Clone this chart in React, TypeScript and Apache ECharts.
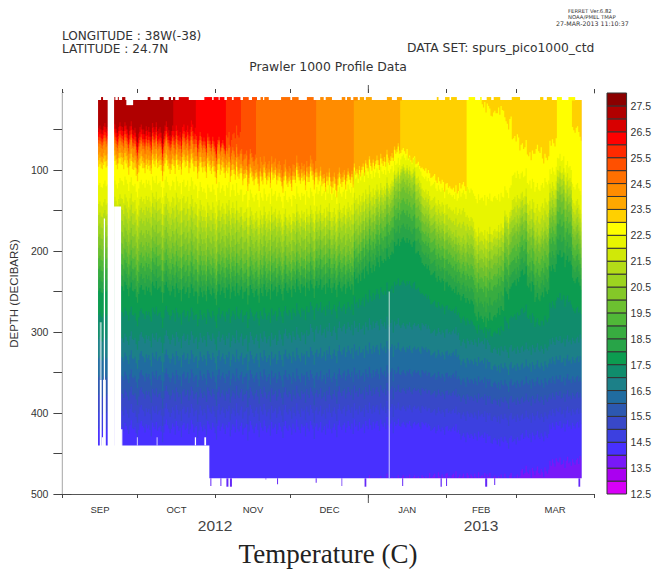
import React, { useEffect, useRef } from "react";
import * as echarts from "echarts";

// Depth (dbar) of each isotherm, one value per 3-day column starting at day 14.2 after 1 Sep 2012.
const level27 = [47,47,45,47,49,52,50,48,49,50];
const level26_5 = [52,52,50,52,55,58,56,54,56,57,53,50,48];
const level26 = [58,58,56,58,60,64,62,60,62,62,60,58,56,60,63,65,68];
const level25_5 = [62,62,60,62,65,68,66,64,66,66,65,62,62,65,68,70,72,60,55];
const level25 = [66,66,64,66,69,72,70,68,70,70,70,67,68,70,72,74,74,76,78,80,82];
const level24_5 = [70,70,68,70,72,76,74,72,74,74,74,72,72,74,76,78,78,80,82,86,88,90,92,90,95,98,92,95,90];
const level24 = [80,80,77,79,83,85,85,81,83,85,83,81,83,85,87,89,89,91,95,99,101,104,102,100,105,107,101,103,100,103,107,108,104,104];
const level23_5 = [87,87,83,85,89,91,91,87,89,91,89,87,89,91,93,95,95,97,100,104,105,108,106,104,110,112,106,108,104,108,112,114,110,108,100,94,90,86,84,74];
const level23 = [95,95,90,94,98,100,98,94,96,98,96,94,96,98,100,102,102,104,106,110,112,114,112,110,115,117,110,114,110,114,118,122,116,112,105,98,94,92,90,78,76,86,92,100,108,114,120,125,118,0,0,20,30,25,40,60,70,80,75,85,65,0,0,50,58];
const level22_5 = [118,118,114,114,118,120,116,114,116,118,116,118,118,122,126,124,124,122,126,130,132,134,132,130,134,136,130,132,130,126,128,130,128,124,110,106,104,102,100,92,84,88,96,110,118,124,128,134,128,125,135,135,135,132,125,105,105,115,122,115,100,85,95,120,125];
const level22 = [141,141,134,136,138,141,136,134,136,138,136,138,140,144,148,146,146,144,148,152,154,156,154,152,156,158,152,154,152,150,150,152,148,146,136,130,126,122,118,104,96,100,110,126,136,142,146,152,150,160,176,178,176,170,155,135,130,140,148,140,118,100,110,140,148];
const level21 = [168,168,158,163,166,168,163,160,163,166,166,168,168,172,174,173,172,170,172,174,176,178,176,173,176,178,173,174,173,170,172,174,170,170,162,154,148,140,132,114,104,110,126,146,158,165,172,180,184,182,198,200,195,188,170,160,150,165,178,170,140,116,130,162,170];
const level20 = [195,195,185,191,195,197,193,189,193,195,195,197,197,201,203,203,201,199,201,203,203,205,203,201,203,205,201,201,199,193,195,197,199,200,186,176,168,160,152,134,124,130,146,166,176,184,190,198,205,205,220,222,218,210,195,180,170,185,198,190,160,136,150,182,190];
const level19 = [221,221,211,217,221,223,219,215,219,221,221,223,223,225,227,227,225,223,225,227,227,229,227,225,225,227,223,223,221,217,219,221,221,222,208,198,192,184,176,160,152,158,172,190,200,208,214,222,228,232,245,248,245,236,220,210,196,216,228,220,186,166,178,208,215];
const level18 = [248,248,238,244,248,250,248,244,246,248,248,250,250,252,252,252,250,248,250,250,250,252,250,248,248,248,245,245,244,242,244,245,245,244,234,225,220,212,206,192,186,190,202,218,228,236,242,250,256,262,280,285,282,272,250,238,226,242,258,250,220,204,212,236,242];
// Deep isotherms change slowly: one value per 12 days.
const level17 = [308,308,308,308,308,308,304,298,294,290,292,300,312,322,320,310,302];
const level16 = [355,355,355,355,355,355,355,355,352,350,350,354,360,364,362,358,355];
const level15 = [398,398,398,398,398,398,398,398,396,394,394,398,402,406,404,398,394];
const level14_5 = [418,418,418,418,418,418,418,418,416,414,414,420,428,434,428,415,408];
const level14 = [490,490,490,490,490,490,490,490,490,484,480,478,478,480,472,460,452];
// Profile-to-profile vertical displacement (dbar), one value per half day from day 14.
const heave = [
  1,-2,3,4,-1,-5,2,0,-3,6,1,-2,-7,-1,4,9,2,-4,-1,0,
  5,-6,-2,3,8,-3,-9,1,2,-1,7,14,3,-5,-8,-2,0,6,-4,1,
  -3,3,11,-6,-1,2,-7,4,0,-2,5,18,6,-4,-10,-3,1,7,2,-5,
  -1,9,-8,-2,4,0,12,-3,-6,3,1,-5,8,2,-9,-4,6,0,-2,13,
  4,-7,-1,5,-3,2,10,-8,-4,1,3,-6,0,7,15,-2,-9,4,-1,-5,
  2,8,-3,0,-7,11,3,-4,-1,6,-10,2,5,-2,-6,9,1,0,-4,16,
  5,-8,-3,2,7,-1,-5,3,12,-6,0,4,-9,-2,6,1,-3,10,-7,2,
  0,-4,8,3,-6,-1,5,13,-2,-8,1,4,-3,0,9,-5,2,6,-10,-1,
  3,7,-4,0,-2,11,-6,1,5,-8,-3,2,14,-1,-5,4,0,-7,6,3,
  -2,9,-4,1,-9,2,7,0,-5,3,12,-3,-7,1,5,-1,-4,8,2,-6,
  0,4,-3,10,-8,1,-1,6,-5,3,2,-2,9,-6,0,4,-7,1,7,-3,
  5,-1,-4,2,8,-6,0,3,-2,6,-9,1,4,-1,-5,11,-3,2,0,-7,
  2,3,-1,-3,1,4,-2,0,-4,2,5,-1,-3,1,0,-2,3,6,-3,-1,
  1,-2,4,0,-4,2,1,-1,-3,5,2,-5,0,3,-2,1,7,-3,-4,2,
  0,3,-1,-3,2,-6,4,1,-2,5,0,-3,2,8,-4,-1,3,-2,0,4,
  -3,1,6,-5,2,0,-1,3,-4,9,-2,1,-6,3,4,-1,-3,0,5,-2,
  7,-4,1,2,-5,0,3,10,-3,-6,2,1,-2,5,-4,0,6,-1,-3,4,
  2,-7,1,3,-2,8,-4,0,5,-1,-6,2,4,-3,1,7,-5,0,3,-2,
  -1,5,-3,2,6,-4,0,1,-5,4,3,-2,8,-1,-6,2,0,5,-3,1,
  4,-2,-4,3,1,6,-3,0,
];
// Days where the surface of the section reaches 10 dbar rather than 13.6 dbar.
const surfaceToothStart = [15.4,20.7,22.1,23.8,34,38.8,42.4,44.1,46.4,56.6,60.3,62.7,65.6,68.3,72,75.6,79,80.5,87.2,91.6,97.5,102.8,105,111.4,113.5,116,118.6,121,129.4,133.4,149.3,152.6,155,162,166.6,169.2,172,179.2,190.5,193.2,197.2,201.8];
const surfaceToothEnd = [16.2,21.1,22.5,25.1,35.1,40.4,43.3,45,50.4,59.7,62.3,64.6,67.6,71,74.3,77.6,80,82.3,90.9,94.2,100.2,104.2,107.5,112.8,115,117.8,120.3,123.4,131.4,135.4,150,154.4,157.3,164.6,167.2,171,174.6,182.5,191.8,195.2,199.2,204.5];
// Blank data regions: [startDay, endDay, topDepth, bottomDepth]
const gapRegions = [
  [0,14.2,0,500],[18.05,20.6,0,500],[20.6,23.4,145,500],[23.4,23.9,420,500],
  [16.5,17,160,500],[14.9,15.66,359,500],[16.2,17.3,359,500],[15.66,16.2,430,500],
  [13.5,58.6,440,500],[58.4,208,480.6,500],[207.1,212,0,500],
  [29.7,30,430,440],[37.6,37.9,430,440],[52.8,53.3,430,440],[56.6,57.3,430,440],
  [25.5,28.2,13.6,20],[13.5,15.4,10,13.6],
];
const paleRegions = [[14.9,15.66,288,359],[130.1,130.6,250,480.6]];
// Readings below the 480 dbar floor: day span and deepest depth
const deepStart = [59,63,65.4,66.8,101,111.3,120.5,135.5,81,85.6,150.8,153,168.6,172.2,205.8];
const deepEnd = [59.4,63.4,66.2,67.6,101.4,111.6,121.2,135.9,81.3,86,151.3,153.4,169.4,172.6,206.5];
const deepDepth = [490,490,491,491,486,490,491,490,482,488,491,490,491,489,491];

const monthTicks = [0,30,61,91,122,153,181,212];
const monthCenters = [15,45.5,76,106.5,137.5,167,196.5];
const monthLabels = ["SEP","OCT","NOV","DEC","JAN","FEB","MAR"];
const depthTicks = [50,100,150,200,250,300,350,400,450,500];
const depthLabels = [100,200,300,400,500];
const colorbarTicks = [12.5,13.5,14.5,15.5,16.5,17.5,18.5,19.5,20.5,21.5,22.5,23.5,24.5,25.5,26.5,27.5];
// Colour of each 0.5 degree class, lowest bound first (12.5 to 28)
const classColors = ["#d800f8","#aa00f0","#7818f8","#4830ff","#3c40e0","#3848c8","#2c58b0","#206ca0","#1c8088","#108c6c","#0c9c50","#28a448","#38ac40","#50b838","#6cc030","#84c828","#9cd420","#b4dc18","#d0e808","#e8f500","#ffff00","#ffd000","#ffa800","#ff8c00","#ff7000","#ff5000","#ff2a00","#ff0000","#d80000","#b00000","#8b0000"];

const FIRST_DAY = 14.2;
const LAST_DAY = 207.1;
const SURFACE = 13.6;
const SANS = "Liberation Sans";
const WIDE = "DejaVu Sans";

const at = (arr: number[], span: number, day: number) => {
  const v = arr[Math.floor((day - FIRST_DAY) / span)];
  return v === undefined ? 0 : v;
};
const lv = (arr: number[], span: number) => (day: number) => at(arr, span, day);
const mid = (a: (d: number) => number, b: (d: number) => number) => (day: number) => (a(day) + b(day)) / 2;

const f27 = lv(level27, 3), f265 = lv(level26_5, 3), f26 = lv(level26, 3), f255 = lv(level25_5, 3), f25 = lv(level25, 3);
const f245 = lv(level24_5, 3), f24 = lv(level24, 3), f235 = lv(level23_5, 3), f23 = lv(level23, 3), f225 = lv(level22_5, 3), f22 = lv(level22, 3);
const f21 = lv(level21, 3), f20 = lv(level20, 3), f19 = lv(level19, 3), f18 = lv(level18, 3);
const f17 = lv(level17, 12), f16 = lv(level16, 12), f15 = lv(level15, 12), f145 = lv(level14_5, 12), f14 = lv(level14, 12);

// Upper edge of each class, warmest first: [class index, edge]
const bands: [number, (d: number) => number][] = [
  [29, () => 0], [28, f27], [27, f265], [26, f26], [25, f255], [24, f25], [23, f245], [22, f24], [21, f235], [20, f23], [19, f225],
  [18, f22], [17, mid(f22, f21)], [16, f21], [15, mid(f21, f20)], [14, f20], [13, mid(f20, f19)], [12, f19], [11, mid(f19, f18)], [10, f18],
  [9, mid(f18, f17)], [8, f17], [7, mid(f17, f16)], [6, f16], [5, mid(f16, f15)], [4, f15], [3, f145], [2, f14],
];

const STEP = 0.5;
const dayEdges: number[] = [];
for (let d = FIRST_DAY; d < LAST_DAY; d += STEP) dayEdges.push(d);

const edgeDepth = (edge: (d: number) => number, day: number) => {
  const base = edge(day);
  if (base <= SURFACE) return 0;
  return base + (heave[Math.floor((day - 14) / STEP)] || 0);
};
const surfaceColor = (day: number) => {
  let c = classColors[29];
  for (const [idx, edge] of bands) if (edge(day) <= SURFACE) c = classColors[idx];
  return c;
};

export default function App() {
  const ref = useRef<HTMLDivElement>(null);
  useEffect(() => {
    const chart = echarts.init(ref.current!, undefined, { renderer: "svg" });
    const labelStyle = { color: "#333", fontFamily: SANS };
    const txt = (text: string, x: number, y: number, size: number, align = "left", extra: any = {}) => ({
      type: "text", x, y,
      style: { text, fontSize: size, fontFamily: WIDE, fill: "#333", textAlign: align, textVerticalAlign: "middle", ...extra },
      silent: true,
    });
    chart.setOption({
      animation: false,
      backgroundColor: "#fff",
      grid: [
        { left: 62, top: 93, width: 532, height: 401 },
        { left: 607, top: 93, width: 20, height: 401 },
      ],
      xAxis: [
        {
          type: "value", gridIndex: 0, min: 0, max: 212, position: "bottom", splitLine: { show: false },
          axisLine: { lineStyle: { color: "#555", width: 1.2 } },
          axisTick: { customValues: monthTicks, length: 4, lineStyle: { color: "#444" } },
          axisLabel: { customValues: monthCenters, margin: 10, fontSize: 9.5, ...labelStyle, formatter: (v: number) => monthLabels[monthCenters.indexOf(v)] },
        },
        {
          type: "value", gridIndex: 0, min: 0, max: 212, position: "top", splitLine: { show: false },
          axisLine: { lineStyle: { color: "#777", width: 1.2 } },
          axisTick: { customValues: monthTicks, length: 4, lineStyle: { color: "#444" } },
          axisLabel: { show: false },
        },
        { type: "value", gridIndex: 1, min: 0, max: 1, show: false },
      ],
      yAxis: [
        {
          type: "value", gridIndex: 0, min: 5, max: 500, inverse: true, position: "left", splitLine: { show: false },
          name: "DEPTH (DECIBARS)", nameLocation: "middle", nameGap: 37, nameRotate: 90,
          nameTextStyle: { fontSize: 11.5, ...labelStyle },
          axisLine: { lineStyle: { color: "#888", width: 2 } },
          axisTick: { customValues: depthTicks, length: 9, lineStyle: { color: "#444" } },
          axisLabel: { customValues: depthLabels, margin: 14, fontSize: 10.5, ...labelStyle },
        },
        {
          type: "value", gridIndex: 0, min: 5, max: 500, inverse: true, position: "right", splitLine: { show: false },
          axisLine: { lineStyle: { color: "#555", width: 1.2 } },
          axisTick: { customValues: depthTicks, length: 9, lineStyle: { color: "#444" } },
          axisLabel: { show: false },
        },
        {
          type: "value", gridIndex: 1, min: 12.5, max: 28, position: "right", splitLine: { show: false },
          axisLine: { show: false }, axisTick: { show: false },
          axisLabel: { customValues: colorbarTicks, margin: 4, fontSize: 10.5, ...labelStyle, formatter: (v: number) => v.toFixed(1) },
        },
      ],
      graphic: [
        txt("FERRET Ver.6.82", 568, 10.5, 5.3),
        txt("NOAA/PMEL TMAP", 568, 17, 5.3),
        txt("27-MAR-2013 11:10:37", 556, 23.5, 6.3),
        txt("LONGITUDE : 38W(-38)", 62, 36, 12.1),
        txt("LATITUDE : 24.7N", 62, 49, 12.1),
        txt("DATA SET: spurs_pico1000_ctd", 407, 47.5, 12.3),
        txt("Prawler 1000 Profile Data", 328, 66.5, 12.4, "center"),
        txt("2012", 215, 525, 15.5, "center", { fontFamily: SANS, fill: "#444" }),
        txt("2013", 481, 525, 15.5, "center", { fontFamily: SANS, fill: "#444" }),
        txt("Temperature (C)", 328, 553.5, 27, "center", { fontFamily: "Liberation Serif", fill: "#222" }),
      ],
      series: [
        {
          type: "custom", name: "Temperature", coordinateSystem: "cartesian2d", xAxisIndex: 0, yAxisIndex: 0, clip: true, silent: true,
          data: bands.map((_, i) => i),
          renderItem: (params: any, api: any) => {
            const [idx, edge] = bands[api.value(0)];
            const pts: number[][] = [];
            for (const d of dayEdges) {
              const depth = edgeDepth(edge, d);
              pts.push(api.coord([d, depth]));
              pts.push(api.coord([Math.min(d + STEP, LAST_DAY), depth]));
            }
            pts.push(api.coord([LAST_DAY, 500]));
            pts.push(api.coord([FIRST_DAY, 500]));
            return { type: "polygon", shape: { points: pts }, style: { fill: classColors[idx] } };
          },
        },
        {
          type: "custom", name: "surface", coordinateSystem: "cartesian2d", xAxisIndex: 0, yAxisIndex: 0, clip: true, silent: true,
          data: [[FIRST_DAY, LAST_DAY]],
          renderItem: (params: any, api: any) => {
            const a = api.coord([FIRST_DAY - 0.5, 0]);
            const b = api.coord([LAST_DAY + 0.5, SURFACE]);
            return { type: "rect", shape: { x: a[0], y: a[1], width: b[0] - a[0], height: b[1] - a[1] }, style: { fill: "#fff" } };
          },
        },
        {
          type: "custom", name: "teeth", coordinateSystem: "cartesian2d", xAxisIndex: 0, yAxisIndex: 0, clip: true, silent: true,
          data: surfaceToothStart.map((s, i) => [s, surfaceToothEnd[i]]),
          renderItem: (params: any, api: any) => {
            const a = api.coord([api.value(0), 10]);
            const b = api.coord([api.value(1), SURFACE]);
            return { type: "rect", shape: { x: a[0], y: a[1], width: b[0] - a[0], height: b[1] - a[1] + 0.5 }, style: { fill: surfaceColor(api.value(0)) } };
          },
        },
        {
          type: "custom", name: "gaps", coordinateSystem: "cartesian2d", xAxisIndex: 0, yAxisIndex: 0, clip: true, silent: true,
          data: gapRegions,
          renderItem: (params: any, api: any) => {
            const a = api.coord([api.value(0), api.value(2)]);
            const b = api.coord([api.value(1), api.value(3)]);
            return { type: "rect", shape: { x: a[0], y: a[1], width: b[0] - a[0], height: b[1] - a[1] }, style: { fill: "#fff" } };
          },
        },
        {
          type: "custom", name: "pale", coordinateSystem: "cartesian2d", xAxisIndex: 0, yAxisIndex: 0, clip: true, silent: true,
          data: paleRegions,
          renderItem: (params: any, api: any) => {
            const a = api.coord([api.value(0), api.value(2)]);
            const b = api.coord([api.value(1), api.value(3)]);
            return { type: "rect", shape: { x: a[0], y: a[1], width: b[0] - a[0], height: b[1] - a[1] }, style: { fill: "rgba(255,255,255,0.6)" } };
          },
        },
        {
          type: "custom", name: "deep", coordinateSystem: "cartesian2d", xAxisIndex: 0, yAxisIndex: 0, clip: true, silent: true,
          data: deepStart.map((s, i) => [s, deepEnd[i], deepDepth[i]]),
          renderItem: (params: any, api: any) => {
            const a = api.coord([api.value(0), 480.6]);
            const b = api.coord([api.value(1), api.value(2)]);
            return { type: "rect", shape: { x: a[0], y: a[1], width: b[0] - a[0], height: b[1] - a[1] }, style: { fill: "#6428f8" } };
          },
        },
        {
          type: "custom", name: "yearTick", coordinateSystem: "cartesian2d", xAxisIndex: 0, yAxisIndex: 0, clip: false, silent: true,
          data: [[122]],
          renderItem: (params: any, api: any) => {
            const top = api.coord([api.value(0), 5]);
            const bottom = api.coord([api.value(0), 500]);
            return {
              type: "group",
              children: [
                { type: "line", shape: { x1: top[0], y1: top[1], x2: top[0], y2: top[1] - 8 }, style: { stroke: "#555", lineWidth: 1 } },
                { type: "line", shape: { x1: bottom[0], y1: bottom[1], x2: bottom[0], y2: bottom[1] + 9 }, style: { stroke: "#555", lineWidth: 1 } },
              ],
            };
          },
        },
        {
          type: "custom", name: "colorbar", coordinateSystem: "cartesian2d", xAxisIndex: 2, yAxisIndex: 2, clip: false, silent: true,
          data: classColors.map((_, i) => [i]),
          renderItem: (params: any, api: any) => {
            const i = api.value(0);
            const a = api.coord([0, 12.5 + (i + 1) * 0.5]);
            const b = api.coord([1, 12.5 + i * 0.5]);
            return { type: "rect", shape: { x: a[0], y: a[1], width: b[0] - a[0], height: b[1] - a[1] }, style: { fill: classColors[i], stroke: "#333", lineWidth: 1 } };
          },
        },
      ],
    });
    return () => chart.dispose();
  }, []);
  return <div ref={ref} style={{ position: "absolute", left: 0, top: 0, width: 654, height: 569 }} />;
}
